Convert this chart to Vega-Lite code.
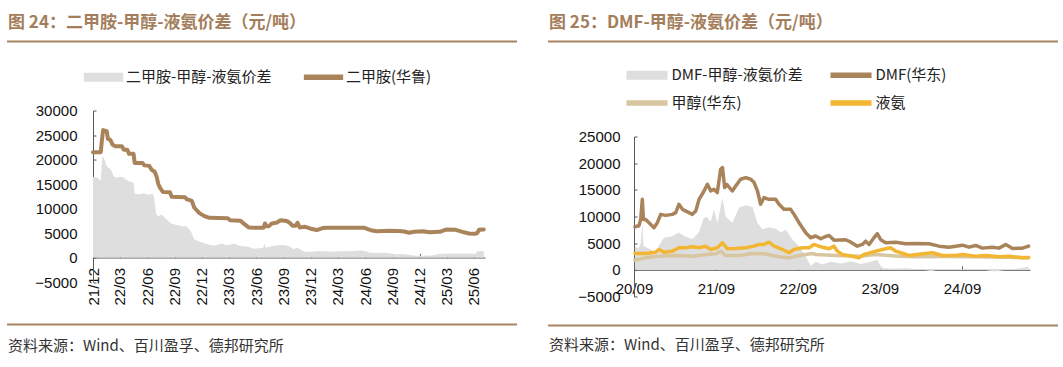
{
  "$schema": "https://vega.github.io/schema/vega-lite/v6.json",
  "background": "white",
  "padding": {"left": 6, "top": 13, "right": 0, "bottom": 0},
  "config": {
    "view": {"stroke": null},
    "axis": {"labelFont": "Liberation Sans", "labelFontSize": 15, "labelColor": "#111111", "domainColor": "#595959", "tickColor": "#595959", "grid": false, "labelFlush": false, "labelOverlap": false, "labelBound": false, "labelSeparation": 0},
    "axisX": {"labelOverlap": false},
    "axisY": {"labelOverlap": false},
    "title": {"font": "Noto Sans CJK SC"}
  },
  "datasets": {
    "L_price": [
      {"d":"2021-12-01","v":21500},{"d":"2021-12-27","v":21500},{"d":"2021-12-31","v":24000},{"d":"2022-01-04","v":26000},{"d":"2022-01-16","v":25800},{"d":"2022-01-20","v":24200},{"d":"2022-01-28","v":24000},{"d":"2022-02-05","v":23000},{"d":"2022-02-14","v":22700},{"d":"2022-03-08","v":22700},{"d":"2022-03-14","v":22000},{"d":"2022-03-26","v":22000},{"d":"2022-04-01","v":21150},{"d":"2022-04-16","v":21150},{"d":"2022-04-20","v":19300},{"d":"2022-05-16","v":19300},{"d":"2022-05-22","v":18800},{"d":"2022-06-08","v":18700},{"d":"2022-06-15","v":17950},{"d":"2022-06-26","v":17500},{"d":"2022-07-02","v":16600},{"d":"2022-07-08","v":15000},{"d":"2022-07-14","v":14200},{"d":"2022-07-24","v":13350},{"d":"2022-08-16","v":13300},{"d":"2022-08-22","v":12400},{"d":"2022-10-06","v":12300},{"d":"2022-10-12","v":11850},{"d":"2022-10-28","v":11600},{"d":"2022-11-06","v":10150},{"d":"2022-11-22","v":9100},{"d":"2022-12-08","v":8500},{"d":"2022-12-26","v":8100},{"d":"2023-02-26","v":8000},{"d":"2023-03-06","v":7600},{"d":"2023-04-10","v":7500},{"d":"2023-04-20","v":6950},{"d":"2023-05-08","v":6100},{"d":"2023-06-26","v":6060},{"d":"2023-07-01","v":6950},{"d":"2023-07-06","v":6400},{"d":"2023-07-14","v":6400},{"d":"2023-07-24","v":6950},{"d":"2023-08-11","v":7150},{"d":"2023-08-22","v":7600},{"d":"2023-09-06","v":7500},{"d":"2023-09-14","v":7400},{"d":"2023-09-22","v":7080},{"d":"2023-10-01","v":6500},{"d":"2023-10-12","v":6500},{"d":"2023-10-18","v":7080},{"d":"2023-10-26","v":6100},{"d":"2023-11-10","v":6260},{"d":"2023-11-22","v":6100},{"d":"2023-12-01","v":5860},{"d":"2023-12-22","v":5600},{"d":"2024-01-10","v":6000},{"d":"2024-01-25","v":6060},{"d":"2024-05-30","v":6060},{"d":"2024-06-10","v":5800},{"d":"2024-06-20","v":5580},{"d":"2024-07-10","v":5370},{"d":"2024-08-01","v":5400},{"d":"2024-08-20","v":5450},{"d":"2024-09-20","v":5400},{"d":"2024-10-10","v":5300},{"d":"2024-10-26","v":5040},{"d":"2024-11-12","v":5240},{"d":"2024-12-11","v":5370},{"d":"2025-01-03","v":5170},{"d":"2025-02-06","v":5240},{"d":"2025-02-27","v":5700},{"d":"2025-04-01","v":5650},{"d":"2025-04-23","v":5240},{"d":"2025-05-15","v":4900},{"d":"2025-06-04","v":4830},{"d":"2025-06-12","v":5000},{"d":"2025-06-18","v":5650},{"d":"2025-07-04","v":5710}
    ],
    "L_spread": [
      {"d":"2021-12-01","v":16500},{"d":"2021-12-15","v":16300},{"d":"2021-12-27","v":15700},{"d":"2022-01-01","v":20300},{"d":"2022-01-05","v":20550},{"d":"2022-01-10","v":19800},{"d":"2022-01-16","v":18640},{"d":"2022-01-24","v":18200},{"d":"2022-01-30","v":17960},{"d":"2022-02-08","v":16600},{"d":"2022-02-18","v":16260},{"d":"2022-03-01","v":16500},{"d":"2022-03-12","v":16400},{"d":"2022-03-20","v":15900},{"d":"2022-04-01","v":15580},{"d":"2022-04-16","v":15240},{"d":"2022-04-20","v":13000},{"d":"2022-05-05","v":12900},{"d":"2022-05-20","v":13100},{"d":"2022-06-05","v":12800},{"d":"2022-06-20","v":13000},{"d":"2022-06-25","v":11800},{"d":"2022-07-01","v":8800},{"d":"2022-07-10","v":8430},{"d":"2022-07-20","v":8800},{"d":"2022-08-05","v":7760},{"d":"2022-08-20","v":6940},{"d":"2022-09-10","v":6600},{"d":"2022-09-25","v":6400},{"d":"2022-10-10","v":6390},{"d":"2022-10-25","v":5400},{"d":"2022-11-05","v":3700},{"d":"2022-11-20","v":3300},{"d":"2022-12-05","v":3000},{"d":"2022-12-22","v":2650},{"d":"2023-01-10","v":2450},{"d":"2023-01-25","v":2600},{"d":"2023-02-05","v":2860},{"d":"2023-02-20","v":2500},{"d":"2023-03-10","v":2650},{"d":"2023-03-20","v":2860},{"d":"2023-04-05","v":2400},{"d":"2023-04-20","v":2300},{"d":"2023-05-05","v":2180},{"d":"2023-05-25","v":1770},{"d":"2023-06-10","v":1900},{"d":"2023-06-25","v":1980},{"d":"2023-06-29","v":2860},{"d":"2023-07-03","v":2000},{"d":"2023-07-15","v":2180},{"d":"2023-08-01","v":2400},{"d":"2023-08-15","v":2520},{"d":"2023-09-05","v":2500},{"d":"2023-09-20","v":2300},{"d":"2023-09-28","v":1980},{"d":"2023-10-05","v":1630},{"d":"2023-10-15","v":2040},{"d":"2023-10-28","v":1630},{"d":"2023-11-10","v":1160},{"d":"2023-12-05","v":1160},{"d":"2023-12-20","v":1290},{"d":"2024-01-15","v":1290},{"d":"2024-02-10","v":1200},{"d":"2024-03-15","v":1290},{"d":"2024-04-20","v":1350},{"d":"2024-05-20","v":1430},{"d":"2024-06-05","v":1200},{"d":"2024-06-18","v":960},{"d":"2024-07-15","v":900},{"d":"2024-08-10","v":960},{"d":"2024-09-10","v":610},{"d":"2024-10-01","v":700},{"d":"2024-10-20","v":610},{"d":"2024-11-10","v":410},{"d":"2024-12-10","v":350},{"d":"2025-01-10","v":410},{"d":"2025-02-06","v":700},{"d":"2025-03-10","v":820},{"d":"2025-04-15","v":800},{"d":"2025-05-15","v":820},{"d":"2025-06-05","v":700},{"d":"2025-06-12","v":1290},{"d":"2025-07-04","v":1290}
    ],
    "R_dmf": [
      {"d":"2020-09-05","v":8080},{"d":"2020-09-23","v":8270},{"d":"2020-10-01","v":9460},{"d":"2020-10-08","v":13220},{"d":"2020-10-13","v":9460},{"d":"2020-10-23","v":9460},{"d":"2020-11-07","v":8840},{"d":"2020-11-29","v":7900},{"d":"2020-12-14","v":8840},{"d":"2020-12-29","v":10400},{"d":"2021-01-20","v":10210},{"d":"2021-02-19","v":10400},{"d":"2021-03-06","v":10720},{"d":"2021-03-20","v":12280},{"d":"2021-04-05","v":11340},{"d":"2021-05-04","v":10720},{"d":"2021-05-19","v":10400},{"d":"2021-06-03","v":11020},{"d":"2021-06-18","v":13220},{"d":"2021-07-10","v":14780},{"d":"2021-07-25","v":16040},{"d":"2021-08-09","v":14780},{"d":"2021-08-23","v":15100},{"d":"2021-09-07","v":14480},{"d":"2021-09-22","v":18860},{"d":"2021-09-30","v":19180},{"d":"2021-10-10","v":15420},{"d":"2021-10-20","v":16000},{"d":"2021-11-13","v":14780},{"d":"2021-11-28","v":15720},{"d":"2021-12-20","v":16980},{"d":"2022-01-12","v":17300},{"d":"2022-02-03","v":16980},{"d":"2022-02-18","v":16360},{"d":"2022-03-05","v":14780},{"d":"2022-03-19","v":12280},{"d":"2022-04-03","v":13540},{"d":"2022-04-25","v":13220},{"d":"2022-05-25","v":13220},{"d":"2022-06-09","v":12280},{"d":"2022-07-01","v":11340},{"d":"2022-07-31","v":11340},{"d":"2022-08-15","v":10400},{"d":"2022-09-06","v":8840},{"d":"2022-10-06","v":6960},{"d":"2022-10-28","v":6020},{"d":"2022-11-19","v":6340},{"d":"2022-12-12","v":5830},{"d":"2022-12-31","v":6200},{"d":"2023-01-18","v":6450},{"d":"2023-02-09","v":5570},{"d":"2023-04-02","v":5640},{"d":"2023-04-25","v":5190},{"d":"2023-05-24","v":4440},{"d":"2023-06-15","v":4760},{"d":"2023-06-30","v":5380},{"d":"2023-07-15","v":4760},{"d":"2023-08-06","v":6020},{"d":"2023-08-21","v":6770},{"d":"2023-09-05","v":5640},{"d":"2023-09-27","v":5080},{"d":"2023-11-11","v":5190},{"d":"2023-12-25","v":4890},{"d":"2024-02-08","v":4950},{"d":"2024-04-07","v":4890},{"d":"2024-05-22","v":4440},{"d":"2024-07-05","v":4250},{"d":"2024-08-04","v":4440},{"d":"2024-09-03","v":4620},{"d":"2024-10-02","v":4250},{"d":"2024-11-01","v":4570},{"d":"2024-12-01","v":4070},{"d":"2025-01-14","v":4250},{"d":"2025-02-13","v":4070},{"d":"2025-03-15","v":4760},{"d":"2025-04-14","v":4010},{"d":"2025-05-28","v":4070},{"d":"2025-06-25","v":4440}
    ],
    "R_nh3": [
      {"d":"2020-09-05","v":3060},{"d":"2020-10-23","v":3060},{"d":"2020-12-07","v":3310},{"d":"2020-12-21","v":3820},{"d":"2021-01-13","v":3310},{"d":"2021-02-19","v":3500},{"d":"2021-03-20","v":4140},{"d":"2021-04-19","v":4140},{"d":"2021-05-19","v":4320},{"d":"2021-06-18","v":4140},{"d":"2021-07-17","v":4440},{"d":"2021-08-09","v":3820},{"d":"2021-09-07","v":4140},{"d":"2021-09-30","v":5080},{"d":"2021-10-22","v":3950},{"d":"2021-11-28","v":4010},{"d":"2022-01-12","v":4140},{"d":"2022-02-18","v":4440},{"d":"2022-03-12","v":4760},{"d":"2022-04-03","v":4760},{"d":"2022-04-25","v":5190},{"d":"2022-05-18","v":4440},{"d":"2022-06-24","v":3820},{"d":"2022-07-23","v":3200},{"d":"2022-08-15","v":3820},{"d":"2022-09-21","v":4140},{"d":"2022-10-21","v":4140},{"d":"2022-11-12","v":4760},{"d":"2022-12-12","v":4320},{"d":"2023-01-18","v":3950},{"d":"2023-02-09","v":4440},{"d":"2023-02-24","v":3500},{"d":"2023-03-18","v":2880},{"d":"2023-05-02","v":2560},{"d":"2023-05-31","v":2250},{"d":"2023-06-23","v":2880},{"d":"2023-07-30","v":3310},{"d":"2023-09-12","v":3820},{"d":"2023-10-19","v":4140},{"d":"2023-11-11","v":3500},{"d":"2023-12-03","v":3200},{"d":"2024-01-09","v":2690},{"d":"2024-02-22","v":2940},{"d":"2024-04-22","v":3200},{"d":"2024-06-06","v":2690},{"d":"2024-08-04","v":2690},{"d":"2024-09-03","v":2880},{"d":"2024-11-01","v":2560},{"d":"2024-12-15","v":2690},{"d":"2025-02-13","v":2440},{"d":"2025-03-29","v":2560},{"d":"2025-05-28","v":2250},{"d":"2025-06-25","v":2300}
    ],
    "R_meoh": [
      {"d":"2020-09-05","v":1800},{"d":"2020-10-23","v":2250},{"d":"2020-12-21","v":2560},{"d":"2021-03-06","v":2690},{"d":"2021-05-19","v":2560},{"d":"2021-07-24","v":2880},{"d":"2021-09-01","v":3000},{"d":"2021-09-22","v":3500},{"d":"2021-10-14","v":2690},{"d":"2021-12-20","v":2690},{"d":"2022-02-04","v":3060},{"d":"2022-04-03","v":3000},{"d":"2022-06-09","v":2440},{"d":"2022-07-23","v":2250},{"d":"2022-09-06","v":2690},{"d":"2022-11-04","v":3060},{"d":"2022-11-19","v":2880},{"d":"2023-02-18","v":2690},{"d":"2023-05-31","v":2560},{"d":"2023-08-13","v":2880},{"d":"2023-11-24","v":2560},{"d":"2024-02-07","v":2440},{"d":"2024-06-19","v":2500},{"d":"2024-10-31","v":2450},{"d":"2025-03-14","v":2350},{"d":"2025-06-25","v":2250}
    ],
    "R_spread": [
      {"d":"2020-09-05","v":4400},{"d":"2020-09-21","v":4000},{"d":"2020-10-01","v":5000},{"d":"2020-10-08","v":8800},{"d":"2020-10-13","v":4500},{"d":"2020-11-14","v":3800},{"d":"2020-12-07","v":3300},{"d":"2020-12-21","v":4500},{"d":"2021-01-12","v":6000},{"d":"2021-02-19","v":6300},{"d":"2021-03-20","v":7000},{"d":"2021-04-19","v":6200},{"d":"2021-05-19","v":5800},{"d":"2021-06-17","v":7000},{"d":"2021-07-06","v":9500},{"d":"2021-07-20","v":10000},{"d":"2021-08-09","v":9000},{"d":"2021-08-23","v":11300},{"d":"2021-09-08","v":8800},{"d":"2021-09-30","v":13500},{"d":"2021-10-14","v":10000},{"d":"2021-11-13","v":8800},{"d":"2021-12-13","v":11700},{"d":"2022-01-12","v":12100},{"d":"2022-02-11","v":11800},{"d":"2022-03-05","v":8800},{"d":"2022-03-27","v":7600},{"d":"2022-04-25","v":8000},{"d":"2022-05-25","v":7700},{"d":"2022-06-17","v":7000},{"d":"2022-07-09","v":7500},{"d":"2022-08-08","v":5700},{"d":"2022-09-06","v":4400},{"d":"2022-10-06","v":2560},{"d":"2022-10-28","v":700},{"d":"2022-11-19","v":1500},{"d":"2022-12-20","v":1000},{"d":"2023-01-25","v":1500},{"d":"2023-03-11","v":1200},{"d":"2023-04-25","v":1600},{"d":"2023-06-09","v":1100},{"d":"2023-07-23","v":1500},{"d":"2023-08-21","v":1900},{"d":"2023-09-01","v":900},{"d":"2023-09-14","v":400},{"d":"2023-10-19","v":200},{"d":"2023-12-25","v":300},{"d":"2024-03-01","v":100},{"d":"2024-04-15","v":-200},{"d":"2024-05-30","v":100},{"d":"2024-08-04","v":0},{"d":"2024-09-17","v":200},{"d":"2024-11-22","v":100},{"d":"2025-01-27","v":-300},{"d":"2025-03-14","v":0},{"d":"2025-04-27","v":200},{"d":"2025-06-12","v":500},{"d":"2025-06-25","v":500}
    ]
  },
  "resolve": {"scale": {"color": "independent"}, "legend": {"color": "independent"}},
  "spacing": 29,
  "hconcat": [
    {
      "columns": 1, "spacing": 17,
      "resolve": {"scale": {"color": "independent"}, "legend": {"color": "independent"}},
      "concat": [
        {
          "columns": 1, "spacing": 26.5,
          "resolve": {"scale": {"color": "independent"}, "legend": {"color": "independent"}},
          "concat": [
            {
              "width": 510, "height": 1,
              "data": {"values": [{}]},
              "title": {"text": "图 24：二甲胺-甲醇-液氨价差（元/吨）", "anchor": "start", "frame": "bounds", "offset": 9, "dx": 2, "fontSize": 17, "fontWeight": "bold", "color": "#A47E5C"},
              "mark": {"type": "rule", "color": "#A88462", "strokeWidth": 2},
              "encoding": {"y": {"datum": 0.5, "type": "quantitative", "scale": {"domain": [0, 1]}, "axis": null}}
            },
            {
              "spacing": 0,
              "resolve": {"scale": {"color": "independent"}, "legend": {"color": "independent"}},
              "hconcat": [
                {
                  "width": 27, "height": 1,
                  "data": {"values": [{}]},
                  "mark": {"type": "text", "text": " "},
                  "encoding": {}
                },
                {
                  "width": 392, "height": 171.5,
                  "encoding": {
                    "x": {"field": "d", "type": "temporal",
                      "scale": {"type": "utc", "domain": [{"year": 2021, "month": 12, "date": 1, "utc": true}, {"year": 2025, "month": 7, "date": 8, "utc": true}]},
                      "axis": {"title": null, "format": "%y/%m", "labelAngle": -90, "offset": -24.5, "tickSize": -4, "labelPadding": 14, "labelOverlap": false, "labelFlush": false,
                        "values": [{"year":2021,"month":12,"date":1,"utc":true},{"year":2022,"month":3,"date":1,"utc":true},{"year":2022,"month":6,"date":1,"utc":true},{"year":2022,"month":9,"date":1,"utc":true},{"year":2022,"month":12,"date":1,"utc":true},{"year":2023,"month":3,"date":1,"utc":true},{"year":2023,"month":6,"date":1,"utc":true},{"year":2023,"month":9,"date":1,"utc":true},{"year":2023,"month":12,"date":1,"utc":true},{"year":2024,"month":3,"date":1,"utc":true},{"year":2024,"month":6,"date":1,"utc":true},{"year":2024,"month":9,"date":1,"utc":true},{"year":2024,"month":12,"date":1,"utc":true},{"year":2025,"month":3,"date":1,"utc":true},{"year":2025,"month":6,"date":1,"utc":true}]}},
                    "y": {"field": "v", "type": "quantitative",
                      "scale": {"domain": [-5000, 30000], "nice": false},
                      "axis": {"title": null, "tickSize": -3, "labelPadding": 19, "format": "d", "labelOverlap": false, "values": [-5000, 0, 5000, 10000, 15000, 20000, 25000, 30000]}}
                  },
                  "layer": [
                    {
                      "data": {"name": "L_spread"},
                      "mark": {"type": "area", "opacity": 1},
                      "encoding": {
                        "color": {"datum": "二甲胺-甲醇-液氨价差", "type": "nominal",
                          "scale": {"domain": ["二甲胺-甲醇-液氨价差", "二甲胺(华鲁)"], "range": ["#DEDEDE", "#A9845B"]},
                          "legend": {"orient": "top", "direction": "horizontal", "title": null, "offset": 25, "padding": 0, "columnPadding": 29,
                            "symbolType": "M-3.15,-0.5H3.15V0.5H-3.15Z",
                            "symbolSize": 144, "symbolOffset": 3, "labelOffset": 15, "labelFont": "Noto Sans CJK SC", "labelFontSize": 15, "labelColor": "#222222", "labelLimit": 400,
                            "encoding": {"symbols": {"shape": {"condition": {"test": "datum.value === '二甲胺-甲醇-液氨价差'", "value": "M-3.15,-0.63H3.15V0.63H-3.15Z"}, "value": "M-3.15,-0.33H3.15V0.33H-3.15Z"}}}}}
                      }
                    },
                    {
                      "data": {"name": "L_price"},
                      "mark": {"type": "line", "strokeWidth": 4, "strokeJoin": "round", "strokeCap": "round"},
                      "encoding": {"color": {"datum": "二甲胺(华鲁)", "type": "nominal"}}
                    }
                  ]
                }
              ]
            }
          ]
        },
        {
          "width": 510, "height": 1,
          "data": {"values": [{}]},
          "title": {"text": "资料来源：Wind、百川盈孚、德邦研究所", "orient": "bottom", "anchor": "start", "frame": "bounds", "offset": 13, "dx": 2, "fontSize": 15, "fontWeight": "normal", "color": "#333333"},
          "mark": {"type": "rule", "color": "#A88462", "strokeWidth": 2},
          "encoding": {"y": {"datum": 0.5, "type": "quantitative", "scale": {"domain": [0, 1]}, "axis": null}}
        }
      ]
    },
    {
      "columns": 1, "spacing": 19,
      "resolve": {"scale": {"color": "independent"}, "legend": {"color": "independent"}},
      "concat": [
        {
          "columns": 1, "spacing": 24.5,
          "resolve": {"scale": {"color": "independent"}, "legend": {"color": "independent"}},
          "concat": [
            {
              "width": 510, "height": 1,
              "data": {"values": [{}]},
              "title": {"text": "图 25：DMF-甲醇-液氨价差（元/吨）", "anchor": "start", "frame": "bounds", "offset": 9, "dx": 2, "fontSize": 17, "fontWeight": "bold", "color": "#A47E5C"},
              "mark": {"type": "rule", "color": "#A88462", "strokeWidth": 2},
              "encoding": {"y": {"datum": 0.5, "type": "quantitative", "scale": {"domain": [0, 1]}, "axis": null}}
            },
            {
              "spacing": 0,
              "resolve": {"scale": {"color": "independent"}, "legend": {"color": "independent"}},
              "hconcat": [
                {
                  "width": 29, "height": 1,
                  "data": {"values": [{}]},
                  "mark": {"type": "text", "text": " "},
                  "encoding": {}
                },
                {
                  "width": 396, "height": 160,
                  "encoding": {
                    "x": {"field": "d", "type": "temporal",
                      "scale": {"type": "utc", "domain": [{"year": 2020, "month": 9, "date": 1, "utc": true}, {"year": 2025, "month": 7, "date": 1, "utc": true}]},
                      "axis": {"title": null, "format": "%y/%m", "labelAngle": 0, "offset": -26.7, "tickSize": -4, "labelPadding": 16, "labelOverlap": false, "labelFlush": false,
                        "values": [{"year":2020,"month":9,"date":1,"utc":true},{"year":2021,"month":9,"date":1,"utc":true},{"year":2022,"month":9,"date":1,"utc":true},{"year":2023,"month":9,"date":1,"utc":true},{"year":2024,"month":9,"date":1,"utc":true}]}},
                    "y": {"field": "v", "type": "quantitative",
                      "scale": {"domain": [-5000, 25000], "nice": false},
                      "axis": {"title": null, "tickSize": -3, "labelPadding": 17, "format": "d", "labelOverlap": false, "values": [-5000, 0, 5000, 10000, 15000, 20000, 25000]}}
                  },
                  "layer": [
                    {
                      "data": {"name": "R_spread"},
                      "mark": {"type": "area", "opacity": 1},
                      "encoding": {
                        "color": {"datum": "DMF-甲醇-液氨价差", "type": "nominal",
                          "scale": {"domain": ["DMF-甲醇-液氨价差", "DMF(华东)", "甲醇(华东)", "液氨"], "range": ["#DEDEDE", "#A9845B", "#D8C6A0", "#F2B632"]},
                          "legend": {"orient": "top", "columns": 2, "title": null, "offset": 25, "padding": 0, "columnPadding": 25, "rowPadding": 12,
                            "symbolType": "M-3.3,-0.5H3.3V0.5H-3.3Z",
                            "symbolSize": 144, "symbolOffset": 5.5, "labelOffset": 17, "labelFont": "Noto Sans CJK SC", "labelFontSize": 15, "labelColor": "#222222", "labelLimit": 400,
                            "encoding": {"symbols": {"shape": {"condition": {"test": "datum.value === 'DMF-甲醇-液氨价差'", "value": "M-3.3,-0.63H3.3V0.63H-3.3Z"}, "value": "M-3.3,-0.33H3.3V0.33H-3.3Z"}}}}}
                      }
                    },
                    {
                      "data": {"name": "R_meoh"},
                      "mark": {"type": "line", "strokeWidth": 3.5, "strokeJoin": "round", "strokeCap": "round"},
                      "encoding": {"color": {"datum": "甲醇(华东)", "type": "nominal"}}
                    },
                    {
                      "data": {"name": "R_nh3"},
                      "mark": {"type": "line", "strokeWidth": 3.5, "strokeJoin": "round", "strokeCap": "round"},
                      "encoding": {"color": {"datum": "液氨", "type": "nominal"}}
                    },
                    {
                      "data": {"name": "R_dmf"},
                      "mark": {"type": "line", "strokeWidth": 3.5, "strokeJoin": "round", "strokeCap": "round"},
                      "encoding": {"color": {"datum": "DMF(华东)", "type": "nominal"}}
                    }
                  ]
                }
              ]
            }
          ]
        },
        {
          "width": 510, "height": 1,
          "data": {"values": [{}]},
          "title": {"text": "资料来源：Wind、百川盈孚、德邦研究所", "orient": "bottom", "anchor": "start", "frame": "bounds", "offset": 11, "dx": 2, "fontSize": 15, "fontWeight": "normal", "color": "#333333"},
          "mark": {"type": "rule", "color": "#A88462", "strokeWidth": 2},
          "encoding": {"y": {"datum": 0.5, "type": "quantitative", "scale": {"domain": [0, 1]}, "axis": null}}
        }
      ]
    }
  ]
}
